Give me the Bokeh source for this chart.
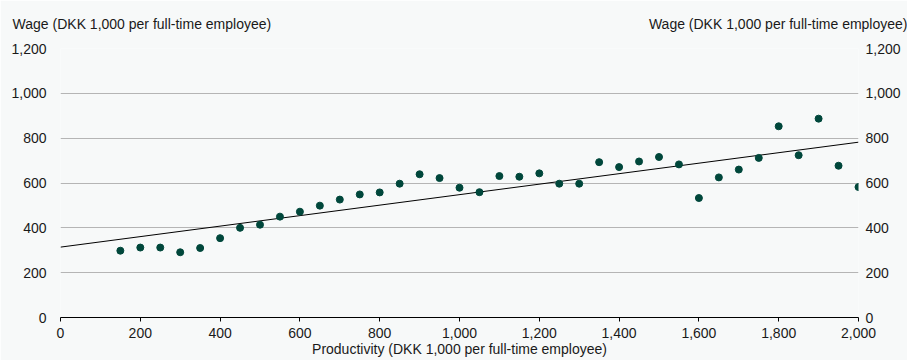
from bokeh.plotting import figure
from bokeh.models import Range1d, LinearAxis, FixedTicker, NumeralTickFormatter
from bokeh.embed import file_html
from bokeh.resources import INLINE

productivity = [150, 200, 250, 300, 350, 400, 450, 500, 550, 600, 650, 700, 750, 800, 850,
                900, 950, 1000, 1050, 1100, 1150, 1200, 1250, 1300, 1350, 1400, 1450, 1500,
                1550, 1600, 1650, 1700, 1750, 1800, 1850, 1900, 1950, 2000]
wage = [298, 312, 312, 291, 310, 354, 400, 414, 450, 472, 499, 526, 549, 558, 597,
        639, 622, 579, 559, 631, 628, 643, 597, 597, 693, 671, 696, 716,
        683, 533, 625, 660, 712, 853, 724, 887, 677, 582]
trend_x = [0, 2000]
trend_y = [314, 782]
x_ticks = [0, 200, 400, 600, 800, 1000, 1200, 1400, 1600, 1800, 2000]
y_ticks = [0, 200, 400, 600, 800, 1000, 1200]
y_title = "Wage (DKK 1,000 per full-time employee)"
x_title = "Productivity (DKK 1,000 per full-time employee)"
# anchor positions (along x) for the two y-axis titles shown above the chart
title_anchors = [204, 1800]

BG = "#f7f9f9"
FONT = "Liberation Sans"
FS = "14px"
TXT = "#1a1a1a"

p = figure(width=907, height=360, output_backend="svg", toolbar_location=None,
           x_range=Range1d(0, 2000), y_range=Range1d(0, 1200),
           min_border_left=60, min_border_right=49, min_border_top=48, min_border_bottom=43,
           background_fill_color=BG, border_fill_color=BG, outline_line_color=None)

p.xgrid.grid_line_color = None
p.ygrid.grid_line_color = "#b5b5b5"
p.ygrid.ticker = FixedTicker(ticks=y_ticks)

xa = p.xaxis[0]
xa.ticker = FixedTicker(ticks=x_ticks)
xa.formatter = NumeralTickFormatter(format="0,0")
xa.axis_line_color = "#000000"
xa.major_tick_line_color = "#000000"
xa.major_tick_out = 4
xa.major_tick_in = 0
xa.minor_tick_line_color = None
xa.major_label_standoff = 6
xa.major_label_text_font = FONT
xa.major_label_text_font_size = FS
xa.major_label_text_color = TXT
xa.axis_label = x_title
xa.axis_label_text_font = FONT
xa.axis_label_text_font_size = FS
xa.axis_label_text_font_style = "normal"
xa.axis_label_text_color = TXT
xa.axis_label_standoff = 0

ya = p.yaxis[0]
right = LinearAxis()
p.add_layout(right, "right")
for a, so in ((ya, 8), (right, 1)):
    a.ticker = FixedTicker(ticks=y_ticks)
    a.formatter = NumeralTickFormatter(format="0,0")
    a.axis_line_color = None
    a.major_tick_line_color = None
    a.minor_tick_line_color = None
    a.major_label_standoff = so
    a.major_label_text_font = FONT
    a.major_label_text_font_size = FS
    a.major_label_text_color = TXT

# top axis used only to carry the two y-axis titles
top = LinearAxis(ticker=FixedTicker(ticks=title_anchors),
                 major_label_overrides={t: y_title for t in title_anchors})
top.axis_line_color = None
top.major_tick_line_color = None
top.minor_tick_line_color = None
top.major_label_standoff = 11
top.major_label_text_font = FONT
top.major_label_text_font_size = FS
top.major_label_text_color = TXT
p.add_layout(top, "above")

p.line(trend_x, trend_y, line_color="#000000", line_width=1)
p.scatter(productivity, wage, size=7, fill_color="#00473b", line_color="#00473b")

open("out.html", "w").write(file_html(p, INLINE))
